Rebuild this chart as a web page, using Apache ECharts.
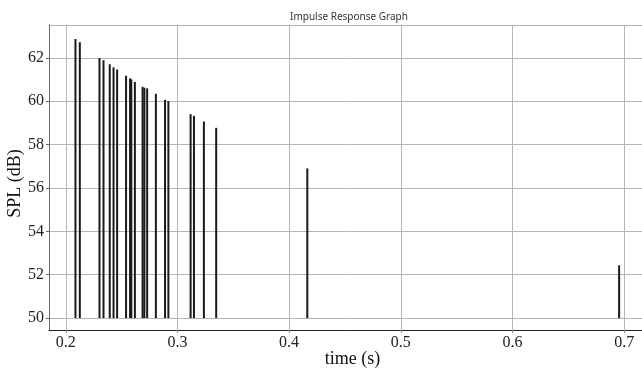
<!DOCTYPE html>
<html>
<head>
<meta charset="utf-8">
<script src="https://cdn.jsdelivr.net/npm/echarts@6/dist/echarts.min.js"></script>
<style>html,body{margin:0;padding:0;background:#fff}#c{width:642px;height:375px}</style>
</head>
<body>
<div id="c"></div>
<script>
const times = [0.2087, 0.2126, 0.2302, 0.2338, 0.2394, 0.2428, 0.2460, 0.2540, 0.2576, 0.2587, 0.2619,
  0.2688, 0.2704, 0.2729, 0.2807, 0.2889, 0.2919, 0.3118, 0.3148, 0.3237, 0.3347, 0.4163, 0.6955];
const spl = [62.86, 62.71, 61.99, 61.89, 61.70, 61.56, 61.46, 61.17, 61.05, 61.00, 60.89,
  60.66, 60.62, 60.59, 60.34, 60.06, 60.00, 59.40, 59.32, 59.06, 58.77, 56.90, 52.43];
const baseSPL = 50;
const titleText = 'Impulse Response Graph';
const xName = 'time (s)';
const yName = 'SPL (dB)';

const data = times.map((t, i) => [t, spl[i]]);
const serif = 'Liberation Serif';
const chart = echarts.init(document.getElementById('c'), null, {renderer: 'canvas'});
chart.setOption({
  animation: false,
  backgroundColor: '#fff',
  title: {
    text: titleText, left: 285, top: 7,
    textStyle: {fontFamily: 'Noto Sans', fontSize: 10, fontWeight: 'normal', color: '#333'}
  },
  grid: {left: 49, right: 0, top: 25, bottom: 45, containLabel: false, outerBoundsMode: 'none'},
  xAxis: {
    type: 'value', min: 0.185, max: 0.716, minInterval: 0.1, maxInterval: 0.1,
    name: xName, nameLocation: 'middle', nameGap: 20, nameMoveOverlap: false,
    nameTextStyle: {fontFamily: serif, fontSize: 18, color: '#111', padding: [0, 0, 0, 14]},
    axisLine: {lineStyle: {color: '#222', width: 1}},
    axisTick: {show: true, length: 3, lineStyle: {color: '#888'}},
    axisLabel: {fontFamily: serif, fontSize: 16, color: '#222', margin: 5, showMinLabel: false, showMaxLabel: false},
    splitLine: {show: true, lineStyle: {color: '#b5b5b5', width: 1}}
  },
  yAxis: {
    type: 'value', min: 49.45, max: 63.51, minInterval: 2, maxInterval: 2,
    name: yName, nameLocation: 'middle', nameGap: 25, nameMoveOverlap: false,
    nameTextStyle: {fontFamily: serif, fontSize: 18, color: '#111', padding: [0, 12, 0, 0]},
    axisLine: {show: true, lineStyle: {color: '#666', width: 1}},
    axisTick: {show: true, length: 3, lineStyle: {color: '#666'}},
    axisLabel: {fontFamily: serif, fontSize: 16, color: '#222', margin: 5, showMinLabel: false, showMaxLabel: false},
    splitLine: {show: true, lineStyle: {color: '#b5b5b5', width: 1}}
  },
  series: [{
    type: 'custom',
    data: data,
    renderItem: function (params, api) {
      const p0 = api.coord([api.value(0), baseSPL]);
      const p1 = api.coord([api.value(0), api.value(1)]);
      return {
        type: 'line',
        shape: {x1: p0[0], y1: p0[1], x2: p1[0], y2: p1[1]},
        style: {stroke: '#1a1a1a', lineWidth: 2}
      };
    }
  }]
});
</script>
</body>
</html>
